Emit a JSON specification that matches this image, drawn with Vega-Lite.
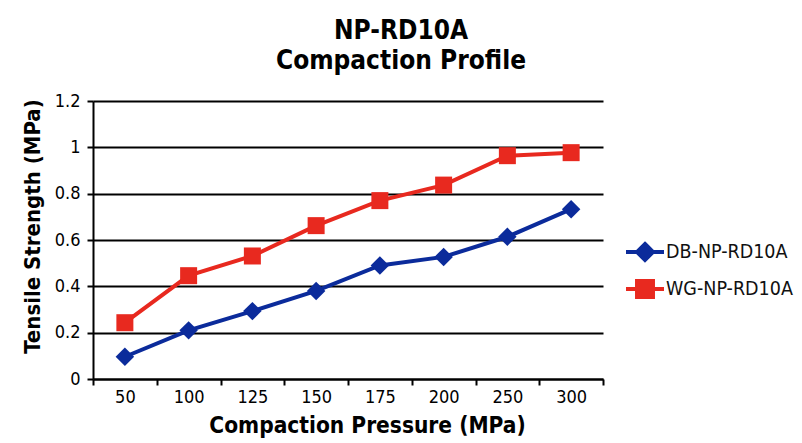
{
  "$schema": "https://vega.github.io/schema/vega-lite/v6.json",
  "width": 510,
  "height": 278,
  "autosize": {"type": "none"},
  "padding": {"left": 93, "top": 101, "right": 199, "bottom": 64},
  "background": "white",
  "config": {"view": {"stroke": null}, "font": "DejaVu Sans Condensed, sans-serif"},
  "title": {
    "text": ["NP-RD10A", "Compaction Profile"],
    "font": "DejaVu Sans Condensed, sans-serif",
    "fontSize": 26,
    "fontWeight": "bold",
    "color": "black",
    "anchor": "middle",
    "frame": "group",
    "dx": 53,
    "offset": 18,
    "lineHeight": 30
  },
  "data": {
    "values": [
      {"pressure": "50", "ts": 0.096, "series": "DB-NP-RD10A"},
      {"pressure": "100", "ts": 0.21, "series": "DB-NP-RD10A"},
      {"pressure": "125", "ts": 0.293, "series": "DB-NP-RD10A"},
      {"pressure": "150", "ts": 0.38, "series": "DB-NP-RD10A"},
      {"pressure": "175", "ts": 0.49, "series": "DB-NP-RD10A"},
      {"pressure": "200", "ts": 0.527, "series": "DB-NP-RD10A"},
      {"pressure": "250", "ts": 0.614, "series": "DB-NP-RD10A"},
      {"pressure": "300", "ts": 0.733, "series": "DB-NP-RD10A"},
      {"pressure": "50", "ts": 0.243, "series": "WG-NP-RD10A"},
      {"pressure": "100", "ts": 0.446, "series": "WG-NP-RD10A"},
      {"pressure": "125", "ts": 0.531, "series": "WG-NP-RD10A"},
      {"pressure": "150", "ts": 0.662, "series": "WG-NP-RD10A"},
      {"pressure": "175", "ts": 0.77, "series": "WG-NP-RD10A"},
      {"pressure": "200", "ts": 0.837, "series": "WG-NP-RD10A"},
      {"pressure": "250", "ts": 0.964, "series": "WG-NP-RD10A"},
      {"pressure": "300", "ts": 0.977, "series": "WG-NP-RD10A"}
    ]
  },
  "encoding": {
    "x": {
      "field": "pressure",
      "type": "ordinal",
      "sort": ["50", "100", "125", "150", "175", "200", "250", "300"],
      "scale": {"type": "band", "paddingInner": 0, "paddingOuter": 0},
      "axis": {
        "title": "Compaction Pressure (MPa)",
        "titleFont": "DejaVu Sans Condensed, sans-serif",
        "titleFontSize": 22.5,
        "titleFontWeight": "bold",
        "titleColor": "black",
        "titlePadding": 8,
        "titleX": 274,
        "titleAlign": "center",
        "labelFont": "DejaVu Sans Condensed, sans-serif",
        "labelFontSize": 18,
        "labelColor": "black",
        "labelAngle": 0,
        "labelPadding": 3,
        "tickBand": "extent",
        "tickColor": "black",
        "tickWidth": 2,
        "tickSize": 6,
        "domainColor": "black",
        "domainWidth": 2,
        "grid": false
      }
    },
    "y": {
      "field": "ts",
      "type": "quantitative",
      "scale": {"domain": [0, 1.2]},
      "axis": {
        "title": "Tensile Strength (MPa)",
        "titleFont": "DejaVu Sans Condensed, sans-serif",
        "titleFontSize": 22,
        "titleFontWeight": "bold",
        "titleColor": "black",
        "titlePadding": 10,
        "titleY": 125,
        "values": [0, 0.2, 0.4, 0.6, 0.8, 1, 1.2],
        "format": "~g",
        "labelFont": "DejaVu Sans Condensed, sans-serif",
        "labelFontSize": 18,
        "labelColor": "black",
        "labelPadding": 7,
        "tickColor": "black",
        "tickWidth": 2,
        "tickSize": 6,
        "domainColor": "black",
        "domainWidth": 2,
        "grid": true,
        "gridColor": "black",
        "gridWidth": 2,
        "gridOpacity": 1
      }
    },
    "color": {
      "field": "series",
      "type": "nominal",
      "scale": {"domain": ["DB-NP-RD10A", "WG-NP-RD10A"], "range": ["#0b2b9b", "#e8291f"]},
      "legend": {
        "title": null,
        "orient": "none",
        "legendX": 531,
        "legendY": 130,
        "symbolSize": 1444,
        "symbolStrokeWidth": 4,
        "labelFont": "DejaVu Sans Condensed, sans-serif",
        "labelFontSize": 19.5,
        "labelColor": "#111111",
        "labelOffset": 0,
        "rowPadding": 0,
        "encode": {
          "symbols": {
            "update": {
              "shape": {"signal": "datum.value === 'DB-NP-RD10A' ? 'M-1,0H1M0,-0.42L0.42,0L0,0.42L-0.42,0Z' : 'M-1,0H1M-0.42,-0.42H0.42V0.42H-0.42Z'"},
              "size": {"value": 1444},
              "fill": {"signal": "datum.value === 'DB-NP-RD10A' ? '#0b2b9b' : '#e8291f'"},
              "stroke": {"signal": "datum.value === 'DB-NP-RD10A' ? '#0b2b9b' : '#e8291f'"},
              "opacity": {"value": 1},
              "fillOpacity": {"value": 1},
              "strokeOpacity": {"value": 1},
              "strokeWidth": {"value": 4}
            }
          }
        }
      }
    }
  },
  "layer": [
    {"mark": {"type": "line", "strokeWidth": 4}},
    {
      "transform": [{"filter": "datum.series === 'DB-NP-RD10A'"}],
      "mark": {"type": "point", "shape": "diamond", "size": 340, "filled": true, "opacity": 1}
    },
    {
      "transform": [{"filter": "datum.series === 'WG-NP-RD10A'"}],
      "mark": {"type": "point", "shape": "square", "size": 289, "filled": true, "opacity": 1}
    }
  ]
}
